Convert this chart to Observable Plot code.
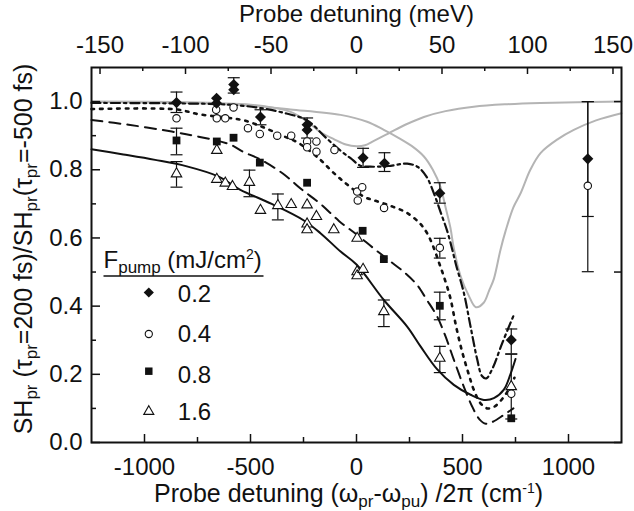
<!DOCTYPE html>
<html>
<head>
<meta charset="utf-8">
<script src="https://cdn.jsdelivr.net/npm/d3@7"></script>
<script src="https://cdn.jsdelivr.net/npm/@observablehq/plot@0.6"></script>
<style>
  html, body { margin: 0; padding: 0; background: #fff; }
  #chart { width: 634px; height: 511px; }
</style>
</head>
<body>
<div id="chart"></div>
<script>
// ---------- data (x in cm^-1, y = SH ratio) ----------
const diamonds02 = [[-849,0.997],[-660,1.01],[-660,0.995],[-579,1.05],[-579,1.035],[-453,0.955],[-233,0.932],[-233,0.917],[31,0.835],[132,0.819],[393,0.731],[730,0.301],[1091,0.832]];
const circles04 = [[-849,0.951],[-662,0.976],[-659,0.951],[-619,0.951],[-580,0.983],[-512,0.922],[-456,0.905],[-374,0.9],[-308,0.9],[-233,0.883],[-233,0.866],[-189,0.883],[-189,0.853],[-104,0.858],[3,0.736],[27,0.749],[6,0.71],[130,0.688],[393,0.571],[730,0.143],[1091,0.753]];
const squares08 = [[-849,0.886],[-659,0.883],[-580,0.894],[-456,0.821],[-233,0.762],[29,0.621],[129,0.538],[393,0.401],[730,0.071]];
const triangles16 = [[-849,0.788],[-659,0.857],[-659,0.772],[-619,0.761],[-585,0.751],[-505,0.763],[-453,0.681],[-371,0.695],[-308,0.698],[-233,0.697],[-189,0.663],[-233,0.641],[-233,0.624],[-107,0.624],[3,0.599],[3,0.501],[3,0.489],[31,0.508],[129,0.384],[393,0.247],[730,0.164]];

// error bars: [x, low, high]
const errors02 = [[-849,0.968,1.028],[-579,1.025,1.07],[-453,0.932,0.976],[-233,0.893,0.952],[31,0.807,0.863],[132,0.795,0.85],[393,0.702,0.762],[730,0.26,0.333],[1091,0.663,1.0]];
const errors04 = [[393,0.541,0.599],[1091,0.501,1.0]];
const errors08 = [[-849,0.844,0.922],[393,0.36,0.441]];
const errors16 = [[-849,0.749,0.824],[-505,0.721,0.799],[-371,0.653,0.729],[129,0.34,0.418],[393,0.205,0.282],[730,0.069,0.259]];

// model curves
const fit02 = [[-1250,0.996],[-900,0.995],[-600,0.991],[-453,0.981],[-330,0.965],[-233,0.945],[-146,0.895],[-75,0.856],[-28,0.834],[19,0.812],[66,0.809],[150,0.811],[239,0.818],[290,0.808],[330,0.78],[365,0.731],[400,0.67],[428,0.62],[450,0.57],[470,0.52],[506,0.44],[538,0.34],[569,0.245],[592,0.195],[612,0.188],[640,0.215],[687,0.291],[742,0.374]];
const fit04 = [[-1250,0.978],[-850,0.977],[-745,0.963],[-600,0.952],[-525,0.944],[-437,0.924],[-350,0.9],[-272,0.878],[-170,0.829],[-115,0.795],[-60,0.765],[35,0.721],[90,0.709],[170,0.692],[239,0.673],[300,0.642],[333,0.614],[365,0.57],[390,0.526],[412,0.487],[443,0.423],[470,0.34],[498,0.267],[530,0.199],[553,0.155],[585,0.115],[617,0.1],[650,0.105],[690,0.13],[726,0.164],[745,0.19]];
const fit08 = [[-1250,0.946],[-1075,0.932],[-871,0.912],[-745,0.897],[-600,0.875],[-532,0.852],[-453,0.83],[-343,0.787],[-264,0.745],[-170,0.7],[-83,0.65],[3,0.609],[80,0.57],[160,0.531],[230,0.497],[286,0.462],[330,0.42],[380,0.37],[420,0.311],[459,0.243],[506,0.164],[546,0.105],[580,0.068],[610,0.055],[640,0.06],[695,0.081],[740,0.1]];
const fit16 = [[-1250,0.86],[-1100,0.845],[-950,0.829],[-800,0.81],[-650,0.78],[-550,0.742],[-400,0.7],[-250,0.652],[-170,0.614],[-75,0.56],[0,0.522],[129,0.418],[239,0.34],[302,0.282],[380,0.215],[459,0.169],[538,0.14],[601,0.125],[648,0.13],[695,0.155],[726,0.2],[750,0.245]];
const grayA = [[-1250,1.0],[-800,0.998],[-500,0.991],[-400,0.983],[-311,0.97],[-233,0.942],[-170,0.91],[-107,0.89],[-50,0.874],[0,0.869],[40,0.872],[82,0.885],[152,0.907],[230,0.932],[318,0.955],[420,0.972],[553,0.985],[700,0.992],[868,0.996],[1250,1.0]];
const grayB = [[-1250,0.999],[-800,0.996],[-500,0.988],[-311,0.977],[-75,0.961],[50,0.941],[129,0.917],[200,0.893],[260,0.87],[318,0.839],[360,0.8],[396,0.75],[420,0.69],[443,0.63],[459,0.57],[490,0.49],[530,0.43],[563,0.397],[600,0.41],[625,0.445],[648,0.48],[679,0.565],[703,0.62],[740,0.69],[774,0.731],[820,0.8],[868,0.849],[950,0.89],[1025,0.917],[1130,0.945],[1250,0.966]];

// ticks and labels
const xMajor = [-1000,-500,0,500,1000];
const xMinor = [-750,-250,250,750];
const meVMajor = [-150,-100,-50,0,50,100,150];
const meVMinor = [-125,-75,-25,25,75,125];
const cmPerMeV = 8.0655;
const yMajor = [0,0.2,0.4,0.6,0.8,1.0];
const yMinor = [0.1,0.3,0.5,0.7,0.9];
const yRight = [0,0.5,1.0];
const legendLabels = ["0.2","0.4","0.8","1.6"];

const topTitle = "Probe detuning (meV)";
const bottomTitle = "Probe detuning (\u03C9_{pr}-\u03C9_{pu}) /2\u03C0 (cm^{-1})";
const yTitle = "SH_{pr} (\u03C4_{pr}=200 fs)/SH_{pr}(\u03C4_{pr}=-500 fs)";
const legendTitle = "F_{pump} (mJ/cm^{2})";

// ---------- chart ----------
const W = 634, H = 511, mL = 91, mR = 13, mT = 67, mB = 69;
const innerW = W - mL - mR, innerH = H - mT - mB;
const hyph = d => (d < 0 ? "-" + Math.abs(d) : String(d));
const hline = { draw(ctx, size) { const w = Math.sqrt(size / Math.PI); ctx.moveTo(-w, 0); ctx.lineTo(w, 0); } };
const X = d => d[0], Y = d => d[1];
const ink = "#111";
const grayInk = "#b4b4b4";
const T = {lineAnchor: "middle", fontSize: 24, fill: ink};

const marks = [
  // gray reference curves
  Plot.line(grayA, {x: X, y: Y, curve: "catmull-rom", stroke: grayInk, strokeWidth: 2}),
  Plot.line(grayB, {x: X, y: Y, curve: "catmull-rom", stroke: grayInk, strokeWidth: 2}),
  // fits
  Plot.line(fit16, {x: X, y: Y, curve: "catmull-rom", stroke: ink, strokeWidth: 2}),
  Plot.line(fit08, {x: X, y: Y, curve: "catmull-rom", stroke: ink, strokeWidth: 2, strokeDasharray: "11,7"}),
  Plot.line(fit04, {x: X, y: Y, curve: "catmull-rom", stroke: ink, strokeWidth: 2.6, strokeDasharray: "2.6,6"}),
  Plot.line(fit02, {x: X, y: Y, curve: "catmull-rom", stroke: ink, strokeWidth: 2.2, strokeDasharray: "9,4,2.5,4"}),
  // error bars
  ...[errors02, errors04, errors08, errors16].flatMap(e => [
    Plot.ruleX(e, {x: X, y1: d => d[1], y2: d => d[2], stroke: ink, strokeWidth: 1.2}),
    Plot.dot(e, {x: X, y: d => d[1], symbol: hline, r: 6, fill: "none", stroke: ink, strokeWidth: 1.2}),
    Plot.dot(e, {x: X, y: d => d[2], symbol: hline, r: 6, fill: "none", stroke: ink, strokeWidth: 1.2})
  ]),
  // data points
  Plot.dot(triangles16, {x: X, y: Y, symbol: "triangle2", r: 5, fill: "white", stroke: ink, strokeWidth: 1.1}),
  Plot.dot(squares08, {x: X, y: Y, symbol: "square", r: 4.4, fill: ink, stroke: "none"}),
  Plot.dot(circles04, {x: X, y: Y, symbol: "circle", r: 3.7, fill: "white", stroke: ink, strokeWidth: 1.1}),
  Plot.dot(diamonds02, {x: X, y: Y, symbol: "diamond2", r: 5, fill: ink, stroke: "none"}),
  // frame
  Plot.frame({stroke: ink, strokeWidth: 2}),
  // inward ticks
  Plot.tickX(xMajor, {x: d => d, insetTop: innerH - 8, stroke: ink, strokeWidth: 1.5}),
  Plot.tickX(xMinor, {x: d => d, insetTop: innerH - 5, stroke: ink, strokeWidth: 1.5}),
  Plot.tickX(meVMajor, {x: d => d * cmPerMeV, insetBottom: innerH - 7, stroke: ink, strokeWidth: 1.5}),
  Plot.tickX(meVMinor, {x: d => d * cmPerMeV, insetBottom: innerH - 4, stroke: ink, strokeWidth: 1.5}),
  Plot.tickY(yMajor, {y: d => d, insetRight: innerW - 9, stroke: ink, strokeWidth: 1.5}),
  Plot.tickY(yMinor, {y: d => d, insetRight: innerW - 5, stroke: ink, strokeWidth: 1.5}),
  Plot.tickY(yRight, {y: d => d, insetLeft: innerW - 7, stroke: ink, strokeWidth: 1.5}),
  // tick labels
  Plot.text(xMajor, {...T, x: d => d, text: hyph, frameAnchor: "bottom", textAnchor: "middle", dy: 25}),
  Plot.text(meVMajor, {...T, x: d => d * cmPerMeV, text: hyph, frameAnchor: "top", textAnchor: "middle", dy: -22}),
  Plot.text(yMajor, {...T, y: d => d, text: d => d.toFixed(1), frameAnchor: "left", dx: -9, textAnchor: "end"}),
  // axis titles
  Plot.text([topTitle], {...T, frameAnchor: "top", textAnchor: "middle", dy: -53}),
  Plot.text([bottomTitle], {...T, fontSize: 25, frameAnchor: "bottom", textAnchor: "middle", dx: -8, dy: 51}),
  Plot.text([yTitle], {...T, fontSize: 25, frameAnchor: "left", textAnchor: "middle", rotate: -90, dx: -68, dy: -6}),
  // legend
  Plot.text([legendTitle], {...T, frameAnchor: "top-left", textAnchor: "start", dx: 12, dy: 193}),
  Plot.dot([0], {frameAnchor: "top-left", dx: 92, dy: 208.5, symbol: hline, r: 80, fill: "none", stroke: ink, strokeWidth: 1.5}),
  Plot.dot([0], {frameAnchor: "top-left", dx: 57.3, dy: 225, symbol: "diamond2", r: 4.6, fill: ink, stroke: "none"}),
  Plot.dot([0], {frameAnchor: "top-left", dx: 57.3, dy: 266.5, symbol: "circle", r: 3.6, fill: "white", stroke: ink, strokeWidth: 1.1}),
  Plot.dot([0], {frameAnchor: "top-left", dx: 57.3, dy: 303.7, symbol: "square", r: 4.2, fill: ink, stroke: "none"}),
  Plot.dot([0], {frameAnchor: "top-left", dx: 57.3, dy: 344, symbol: "triangle2", r: 4.8, fill: "white", stroke: ink, strokeWidth: 1.1}),
  ...legendLabels.map((t, i) => Plot.text([t], {...T, frameAnchor: "top-left", textAnchor: "start", dx: 86.3, dy: [227, 266.5, 307.5, 344.5][i]}))
];

const svg = Plot.plot({
  width: W, height: H,
  marginLeft: mL, marginRight: mR, marginTop: mT, marginBottom: mB,
  x: {domain: [-1250, 1250], axis: null},
  y: {domain: [0, 1.1], axis: null},
  style: {fontFamily: "'Liberation Sans', Arial, Helvetica, sans-serif", fontSize: "24px", color: ink, background: "white", overflow: "visible"},
  marks
});

// rich text: _{sub} and ^{sup}
function richText(root) {
  const ns = "http://www.w3.org/2000/svg";
  root.querySelectorAll("text").forEach(t => {
    const s = t.textContent;
    if (!/[_^]\{/.test(s)) return;
    const parts = [];
    const re = /([_^])\{([^}]*)\}/g;
    let last = 0, m;
    while ((m = re.exec(s))) {
      if (m.index > last) parts.push({type: "n", text: s.slice(last, m.index)});
      parts.push({type: m[1] === "_" ? "sub" : "sup", text: m[2]});
      last = re.lastIndex;
    }
    if (last < s.length) parts.push({type: "n", text: s.slice(last)});
    while (t.firstChild) t.removeChild(t.firstChild);
    let shift = 0;
    for (const p of parts) {
      const ts = document.createElementNS(ns, "tspan");
      ts.textContent = p.text;
      const target = p.type === "sub" ? 5 : p.type === "sup" ? -9 : 0;
      if (p.type !== "n") ts.setAttribute("font-size", p.type === "sub" ? 17 : 14);
      const d = target - shift;
      if (d) ts.setAttribute("dy", d);
      shift = target;
      t.appendChild(ts);
    }
  });
}
richText(svg);
document.getElementById("chart").appendChild(svg);
</script>
</body>
</html>
